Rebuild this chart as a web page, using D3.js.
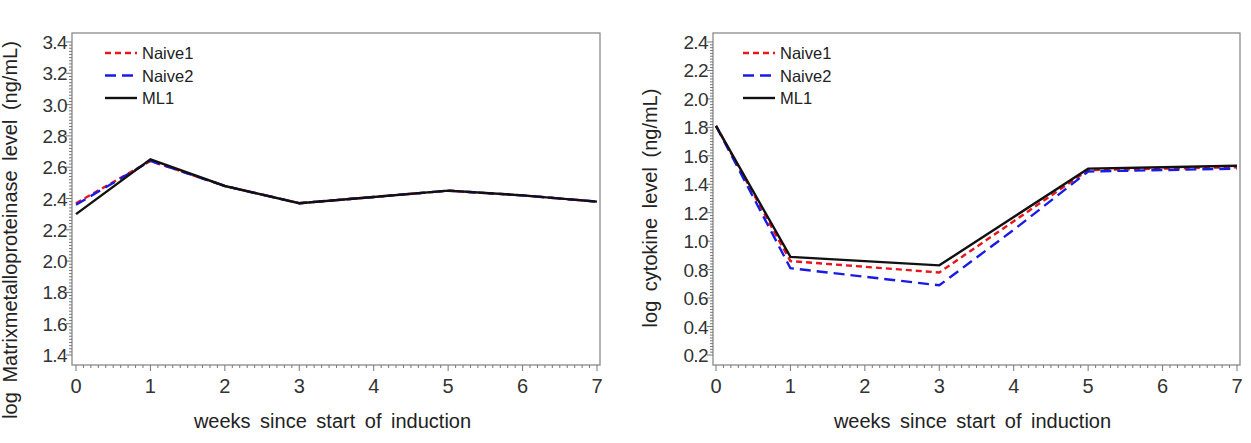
<!DOCTYPE html>
<html>
<head>
<meta charset="utf-8">
<script src="https://cdn.jsdelivr.net/npm/d3@7"></script>
<style>
body{margin:0;background:#fff}
svg text{font-family:"Liberation Sans",Arial,sans-serif}
</style>
</head>
<body>
<svg width="1251" height="443"></svg>
<script>
// weeks since start of induction
var weeks=[0,1,2,3,4,5,6,7]

// left panel: log matrixmetalloproteinase
var mmpNaive1=[2.37,2.64,2.48,2.37,2.41,2.45,2.42,2.38]
var mmpNaive2=[2.36,2.64,2.48,2.37,2.41,2.45,2.42,2.38]
var mmpML1=[2.30,2.65,2.48,2.37,2.41,2.45,2.42,2.38]
var mmpTicks=[1.4,1.6,1.8,2.0,2.2,2.4,2.6,2.8,3.0,3.2,3.4]

// right panel: log cytokine
var cytNaive1=[1.81,0.86,0.82,0.78,1.14,1.50,1.51,1.52]
var cytNaive2=[1.81,0.81,0.75,0.69,1.08,1.49,1.50,1.51]
var cytML1=[1.81,0.89,0.86,0.83,1.17,1.51,1.52,1.53]
var cytTicks=[0.2,0.4,0.6,0.8,1.0,1.2,1.4,1.6,1.8,2.0,2.2,2.4]

var seriesNames=['Naive1','Naive2','ML1']
var seriesColors=['#e8151b','#1a1ae6','#111']
var seriesDash=['6,4','11,6',null]

var svg=d3.select('svg')

function panel(opt){
    var g=svg.append('g')
    var x=d3.scaleLinear().domain([0,7]).range([opt.x0,opt.x1])
    var y=d3.scaleLinear().domain(d3.extent(opt.ticks)).range([355,42])

    // frame
    g.append('rect').attr('x',opt.left).attr('y',33)
        .attr('width',opt.right-opt.left).attr('height',332)
        .attr('fill','none').attr('stroke','#8a8a8a').attr('stroke-width',1.3)

    // x axis minor ticks
    var xminor=d3.range(0,7.001,0.1)
    g.selectAll('.xm').data(xminor).enter().append('line')
        .attr('x1',d=>x(d)).attr('x2',d=>x(d))
        .attr('y1',365).attr('y2',d=>Math.abs(d-Math.round(d))<0.01?371:368)
        .attr('stroke','#777').attr('stroke-width',1)
    g.selectAll('.xl').data(weeks).enter().append('text')
        .attr('x',d=>x(d)).attr('y',393).attr('text-anchor','middle')
        .attr('font-size',20).attr('fill','#333').text(d=>d)

    // y axis minor ticks
    var lo=d3.min(opt.ticks),hi=d3.max(opt.ticks)
    var yminor=d3.range(0,Math.round((hi-lo)/0.02)+1).map(i=>lo+i*0.02)
    g.selectAll('.ym').data(yminor).enter().append('line')
        .attr('y1',d=>y(d)).attr('y2',d=>y(d))
        .attr('x1',opt.left).attr('x2',(d,i)=>i%10==0?opt.left-6:opt.left-3)
        .attr('stroke','#777').attr('stroke-width',1)
    g.selectAll('.yl').data(opt.ticks).enter().append('text')
        .attr('x',opt.left-5).attr('y',d=>y(d)+7).attr('text-anchor','end')
        .attr('font-size',19).attr('fill','#333')
        .attr('letter-spacing',-0.6).text(d=>d.toFixed(1))

    // axis titles
    g.append('text').attr('x',(opt.x0+opt.x1)/2-4).attr('y',428)
        .attr('text-anchor','middle').attr('font-size',20).attr('fill','#222')
        .attr('word-spacing',4).text('weeks since start of induction')
    g.append('text').attr('transform','translate('+opt.ylabX+','+opt.ylabY+') rotate(-90)')
        .attr('text-anchor','middle').attr('font-size',20).attr('fill','#222')
        .attr('word-spacing',4).text(opt.ylabel)

    // lines
    var line=d3.line().x((d,i)=>x(weeks[i])).y(d=>y(d))
    opt.series.forEach(function(s,k){
        g.append('path').datum(s).attr('d',line).attr('fill','none')
            .attr('stroke',seriesColors[k]).attr('stroke-width',2.4)
            .attr('stroke-dasharray',seriesDash[k])
    })

    // legend
    var lg=g.selectAll('.lg').data(seriesNames).enter().append('g')
        .attr('transform',(d,i)=>'translate('+(opt.left+opt.legX)+','+(53+i*22.5)+')')
    lg.append('line').attr('x1',0).attr('x2',32).attr('y1',0).attr('y2',0)
        .attr('stroke',(d,i)=>seriesColors[i]).attr('stroke-width',2.4)
        .attr('stroke-dasharray',(d,i)=>seriesDash[i])
    lg.append('text').attr('x',37).attr('y',6).attr('font-size',16.5)
        .attr('fill','#222').text(d=>d)
}

panel({left:72,right:600,x0:76,x1:597,ticks:mmpTicks,legX:33,
    series:[mmpNaive1,mmpNaive2,mmpML1],
    ylabel:'log Matrixmetalloproteinase level (ng/mL)',ylabX:17,ylabY:230})
panel({left:713,right:1240,x0:716,x1:1237,ticks:cytTicks,legX:30,
    series:[cytNaive1,cytNaive2,cytML1],
    ylabel:'log cytokine level (ng/mL)',ylabX:657,ylabY:208})
</script>
</body>
</html>
